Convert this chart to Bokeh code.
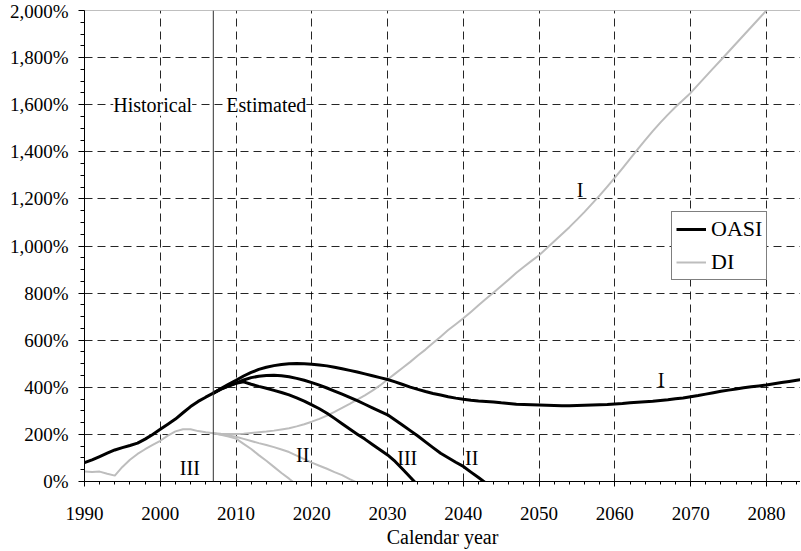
from bokeh.plotting import figure
from bokeh.models import Range1d, FixedTicker, Span, Label, Legend, LegendItem
from bokeh.embed import file_html
from bokeh.resources import INLINE

# ---------------- data (percent) ----------------
years_hist = list(range(1990, 2008))
oasi_hist = [80, 92, 106, 120, 134, 144, 153, 163, 180, 200,
             222, 243, 265, 292, 318, 340, 358, 375]
di_hist = [42, 40, 42, 33, 25, 62, 92, 117, 137, 155,
           173, 195, 213, 222, 222, 214, 209, 205]

# OASI projections (start 2007)
oasi_I = [375, 395, 413, 430, 448, 463, 476, 485, 492, 497,      # 2007-2016
          500, 501, 500, 498, 495, 491, 485, 479, 472, 465,      # 2017-2026
          457, 449, 441, 433, 423, 412, 401, 391, 382, 374,      # 2027-2036
          367, 360, 354, 349, 345, 342, 340, 338, 334, 331,      # 2037-2046
          328, 327, 326, 325, 324, 323, 322, 322, 323, 324,      # 2047-2056
          325, 326, 327, 329, 331, 334, 337, 339, 341, 344,      # 2057-2066
          347, 351, 355, 360, 365, 371, 377, 383, 388, 393,      # 2067-2076
          398, 402, 406, 410, 415, 420, 425, 430, 435]           # 2077-2085
oasi_II = [375, 392, 406, 418, 431, 441, 447, 450, 451, 449,     # 2007-2016
           445, 438, 430, 420, 409, 397, 384, 371, 357, 343,     # 2017-2026
           328, 313, 298, 283, 261, 239, 216, 193, 168, 144,     # 2027-2036
           120, 101, 82, 64, 40, 17, -7]                         # 2037-2043
oasi_III = [375, 392, 405, 417, 423, 413, 404, 396, 387, 378,    # 2007-2016
            368, 355, 341, 325, 309, 290, 268, 245, 223, 201,    # 2017-2026
            180, 157, 135, 113, 85, 52, 18, -16]                 # 2027-2034

# DI projections (start 2007)
di_I = [205, 203, 202, 202, 203, 206, 209, 212, 216, 221,        # 2007-2016
        226, 234, 243, 254, 266, 280, 296, 313, 330, 348,        # 2017-2026
        366, 386, 408, 433, 458, 483, 508, 535, 560, 588,        # 2027-2036
        615, 643, 668, 693, 720, 748, 776, 803, 830, 858,        # 2037-2046
        886, 912, 937, 961, 990, 1020, 1050, 1080, 1112, 1145,   # 2047-2056
        1180, 1215, 1252, 1290, 1330, 1370, 1410, 1450, 1488, 1524,  # 2057-2066
        1558, 1590, 1620, 1650, 1685, 1720, 1755, 1790, 1825, 1860,  # 2067-2076
        1895, 1930, 1965, 2000]                                  # 2077-2080
di_II = [205, 200, 195, 190, 181, 172, 163, 155, 146, 136,       # 2007-2016
         125, 110, 95, 80, 67, 54, 40, 27, 10, -5]               # 2017-2026
di_III = [205, 198, 191, 182, 160, 138, 112, 88, 62, 36,         # 2007-2016
          12, -14]                                               # 2017-2018

x_ticks = list(range(1990, 2081, 10))
x_minor = list(range(1990, 2086, 2))
y_ticks = list(range(0, 2001, 200))
y_minor = list(range(0, 2001, 50))
y_tick_labels = ["0%", "200%", "400%", "600%", "800%", "1,000%", "1,200%",
                 "1,400%", "1,600%", "1,800%", "2,000%"]
series_names = ["OASI", "DI"]
x_title = "Calendar year"


def yrs(start, values):
    return list(range(start, start + len(values)))


FONT = "Liberation Serif"
OASI_COLOR = "black"
DI_COLOR = "#BDBDBD"

p = figure(width=800, height=550, output_backend="svg", toolbar_location=None,
           x_range=Range1d(1990, 2084.5), y_range=Range1d(0, 2000),
           min_border_left=84, min_border_right=0, min_border_top=10,
           min_border_bottom=68)
p.outline_line_color = None
p.background_fill_color = "white"
p.border_fill_color = "white"

# axes
xt = FixedTicker(ticks=x_ticks, minor_ticks=x_minor)
yt = FixedTicker(ticks=y_ticks, minor_ticks=y_minor)
p.xaxis.ticker = xt
p.yaxis.ticker = yt
p.xgrid.ticker = xt
p.ygrid.ticker = yt
p.yaxis.major_label_overrides = {t: l for t, l in zip(y_ticks, y_tick_labels)}
p.xaxis.axis_label = x_title

for ax in (p.xaxis[0], p.yaxis[0]):
    ax.axis_line_color = "black"
    ax.major_tick_line_color = "black"
    ax.minor_tick_line_color = "black"
    ax.major_tick_in = 0
    ax.minor_tick_in = 0
    ax.major_label_text_font = FONT
    ax.major_label_text_font_size = "19px"
    ax.major_label_text_color = "black"
    ax.axis_label_text_font = FONT
    ax.axis_label_text_font_size = "20px"
    ax.axis_label_text_font_style = "normal"
    ax.axis_label_text_color = "black"

p.xaxis.major_tick_out = 5
p.xaxis.minor_tick_out = 3
p.xaxis.major_label_standoff = 20
p.xaxis.axis_label_standoff = 3
p.yaxis.major_tick_out = 6
p.yaxis.minor_tick_out = 4
p.yaxis.major_label_standoff = 10

for g in (p.xgrid[0], p.ygrid[0]):
    g.grid_line_color = "black"
    g.grid_line_alpha = 0.85
    g.grid_line_dash = "8 5"
    g.grid_line_width = 1

# top border line and historical / estimated divider
p.add_layout(Span(location=2000, dimension="width", line_color="#808080", line_width=1))
p.add_layout(Span(location=2007, dimension="height", line_color="#303030", line_width=1))

# DI lines (drawn first, under OASI)
r_di = p.line(years_hist, di_hist, line_color=DI_COLOR, line_width=2, line_join="round")
for vals in (di_I, di_II, di_III):
    p.line(yrs(2007, vals), vals, line_color=DI_COLOR, line_width=2, line_join="round")

# OASI lines
r_oasi = p.line(years_hist, oasi_hist, line_color=OASI_COLOR, line_width=3, line_join="round")
for vals in (oasi_I, oasi_II, oasi_III):
    p.line(yrs(2007, vals), vals, line_color=OASI_COLOR, line_width=3, line_join="round")

# period labels
for txt, xx in (("Historical", 1999.0), ("Estimated", 2014.0)):
    p.add_layout(Label(x=xx, y=1600, text=txt, text_font=FONT, text_font_size="20px",
                       text_align="center", text_baseline="middle", text_color="black",
                       background_fill_color="white", background_fill_alpha=1.0))

# scenario labels
scen = [("III", 2003.9, 58), ("II", 2018.8, 111), ("III", 2032.6, 101),
        ("II", 2041.1, 101), ("I", 2066.1, 431), ("I", 2055.4, 1236)]
for txt, xx, yy in scen:
    p.add_layout(Label(x=xx, y=yy, text=txt, text_font=FONT, text_font_size="20px",
                       text_align="center", text_baseline="middle", text_color="black"))

legend = Legend(items=[LegendItem(label=series_names[0], renderers=[r_oasi]),
                       LegendItem(label=series_names[1], renderers=[r_di])],
                location=(587, 201))
legend.label_text_font = FONT
legend.label_text_font_size = "22px"
legend.label_text_color = "black"
legend.glyph_width = 30
legend.glyph_height = 24
legend.label_height = 24
legend.label_standoff = 5
legend.padding = 4
legend.spacing = 7
legend.margin = 0
legend.border_line_color = "black"
legend.border_line_width = 1
legend.background_fill_color = "white"
legend.background_fill_alpha = 1.0
p.add_layout(legend, "center")

open("out.html", "w").write(file_html(p, INLINE))
